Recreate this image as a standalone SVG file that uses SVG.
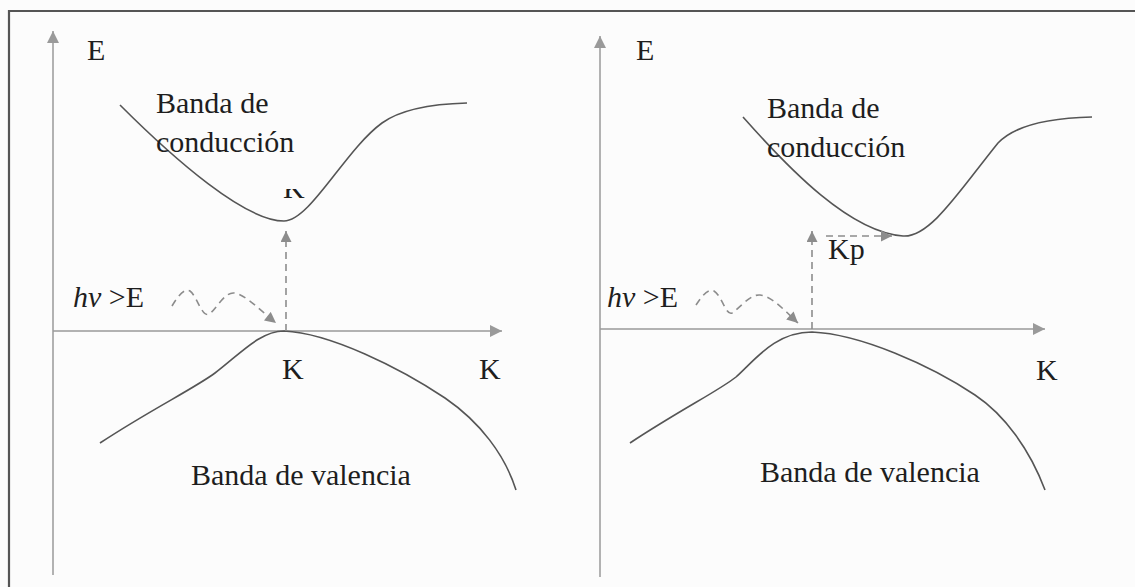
<svg xmlns="http://www.w3.org/2000/svg" width="1135" height="587" viewBox="0 0 1135 587">
  <style>
    .t { font-family: "Liberation Serif", "Times New Roman", serif; font-size: 30px; fill: #1e1e1e; }
    .it { font-style: italic; }
    .axis { stroke: #9a9a9a; stroke-width: 1.5; fill: none; }
    .curve { stroke: #555; stroke-width: 1.6; fill: none; }
    .dash { stroke: #8c8c8c; stroke-width: 1.6; fill: none; stroke-dasharray: 7 5; }
  </style>
  <defs>
    <marker id="ah" viewBox="0 0 10 10" refX="10" refY="5" markerWidth="14" markerHeight="12" markerUnits="userSpaceOnUse" orient="auto">
      <path d="M0,0 L10,5 L0,10 z" fill="#9a9a9a"/>
    </marker>
    <marker id="ahs" viewBox="0 0 10 10" refX="10" refY="5" markerWidth="12" markerHeight="11" markerUnits="userSpaceOnUse" orient="auto">
      <path d="M0,0 L10,5 L0,10 z" fill="#8c8c8c"/>
    </marker>
    <clipPath id="kclip">
      <rect x="278" y="189" width="30" height="10"/>
    </clipPath>
  </defs>
  <rect width="1135" height="587" fill="#fcfcfc"/>
  <g id="frame">
    <path d="M9,587 L9,11 L1135,11" fill="none" stroke="#555" stroke-width="2.2"/>
  </g>

  <g id="connectors">
    <!-- left panel -->
    <line class="axis" x1="53" y1="575" x2="53" y2="31" marker-end="url(#ah)"/>
    <line class="axis" x1="53" y1="331" x2="502" y2="331" marker-end="url(#ah)"/>
    <path class="curve" d="M120,105 C175,160 245,221 284,221 C310,221 345,150 382,123 C400,110 430,104 467,103"/>
    <path class="curve" d="M100,443 C150,410 195,388 215,373 C240,354 260,331 284,331 C330,333 400,368 445,398 C480,422 505,455 516,490"/>
    <line class="dash" x1="286" y1="331" x2="286" y2="231" marker-end="url(#ahs)"/>
    <path class="dash" d="M172,306 C178,296 184,288 190,291 C197,296 202,318 209,314 C216,310 224,292 234,293 C245,294 262,312 276,323" marker-end="url(#ahs)"/>
    <!-- right panel -->
    <line class="axis" x1="600" y1="577" x2="600" y2="36" marker-end="url(#ah)"/>
    <line class="axis" x1="600" y1="329" x2="1045" y2="329" marker-end="url(#ah)"/>
    <path class="curve" d="M743,117 C790,170 850,232 903,236 C930,238 960,190 998,143 C1015,125 1050,118 1092,117"/>
    <path class="curve" d="M630,443 C680,410 720,390 736,377 C755,360 775,332 812,332 C860,334 930,365 975,395 C1005,415 1030,450 1045,490"/>
    <line class="dash" x1="812" y1="329" x2="812" y2="231" marker-end="url(#ahs)"/>
    <line class="dash" x1="826" y1="236" x2="892" y2="236" marker-end="url(#ahs)"/>
    <path class="dash" d="M696,305 C702,296 708,288 714,291 C722,296 726,316 732,313 C740,308 750,294 760,295 C772,296 786,312 798,323" marker-end="url(#ahs)"/>
  </g>

  <g id="left-labels">
    <text id="l-E" class="t" x="87" y="60">E</text>
    <text id="l-cond" class="t"><tspan x="156" y="113">Banda de</tspan><tspan x="156" y="152">conducción</tspan></text>
    <text id="l-Kmin" class="t" x="283" y="198" clip-path="url(#kclip)">K</text>
    <text id="l-hv" class="t" x="73" y="307"><tspan class="it">hv</tspan> &gt;E</text>
    <text id="l-K1" class="t" x="282" y="379">K</text>
    <text id="l-K2" class="t" x="479" y="379">K</text>
    <text id="l-val" class="t" x="191" y="485">Banda de valencia</text>
  </g>

  <g id="right-labels">
    <text id="r-E" class="t" x="636" y="60">E</text>
    <text id="r-cond" class="t"><tspan x="767" y="118">Banda de</tspan><tspan x="767" y="157">conducción</tspan></text>
    <text id="r-Kp" class="t" x="828" y="259">Kp</text>
    <text id="r-hv" class="t" x="607" y="307"><tspan class="it">hv</tspan> &gt;E</text>
    <text id="r-K" class="t" x="1036" y="380">K</text>
    <text id="r-val" class="t" x="760" y="482">Banda de valencia</text>
  </g>
</svg>
